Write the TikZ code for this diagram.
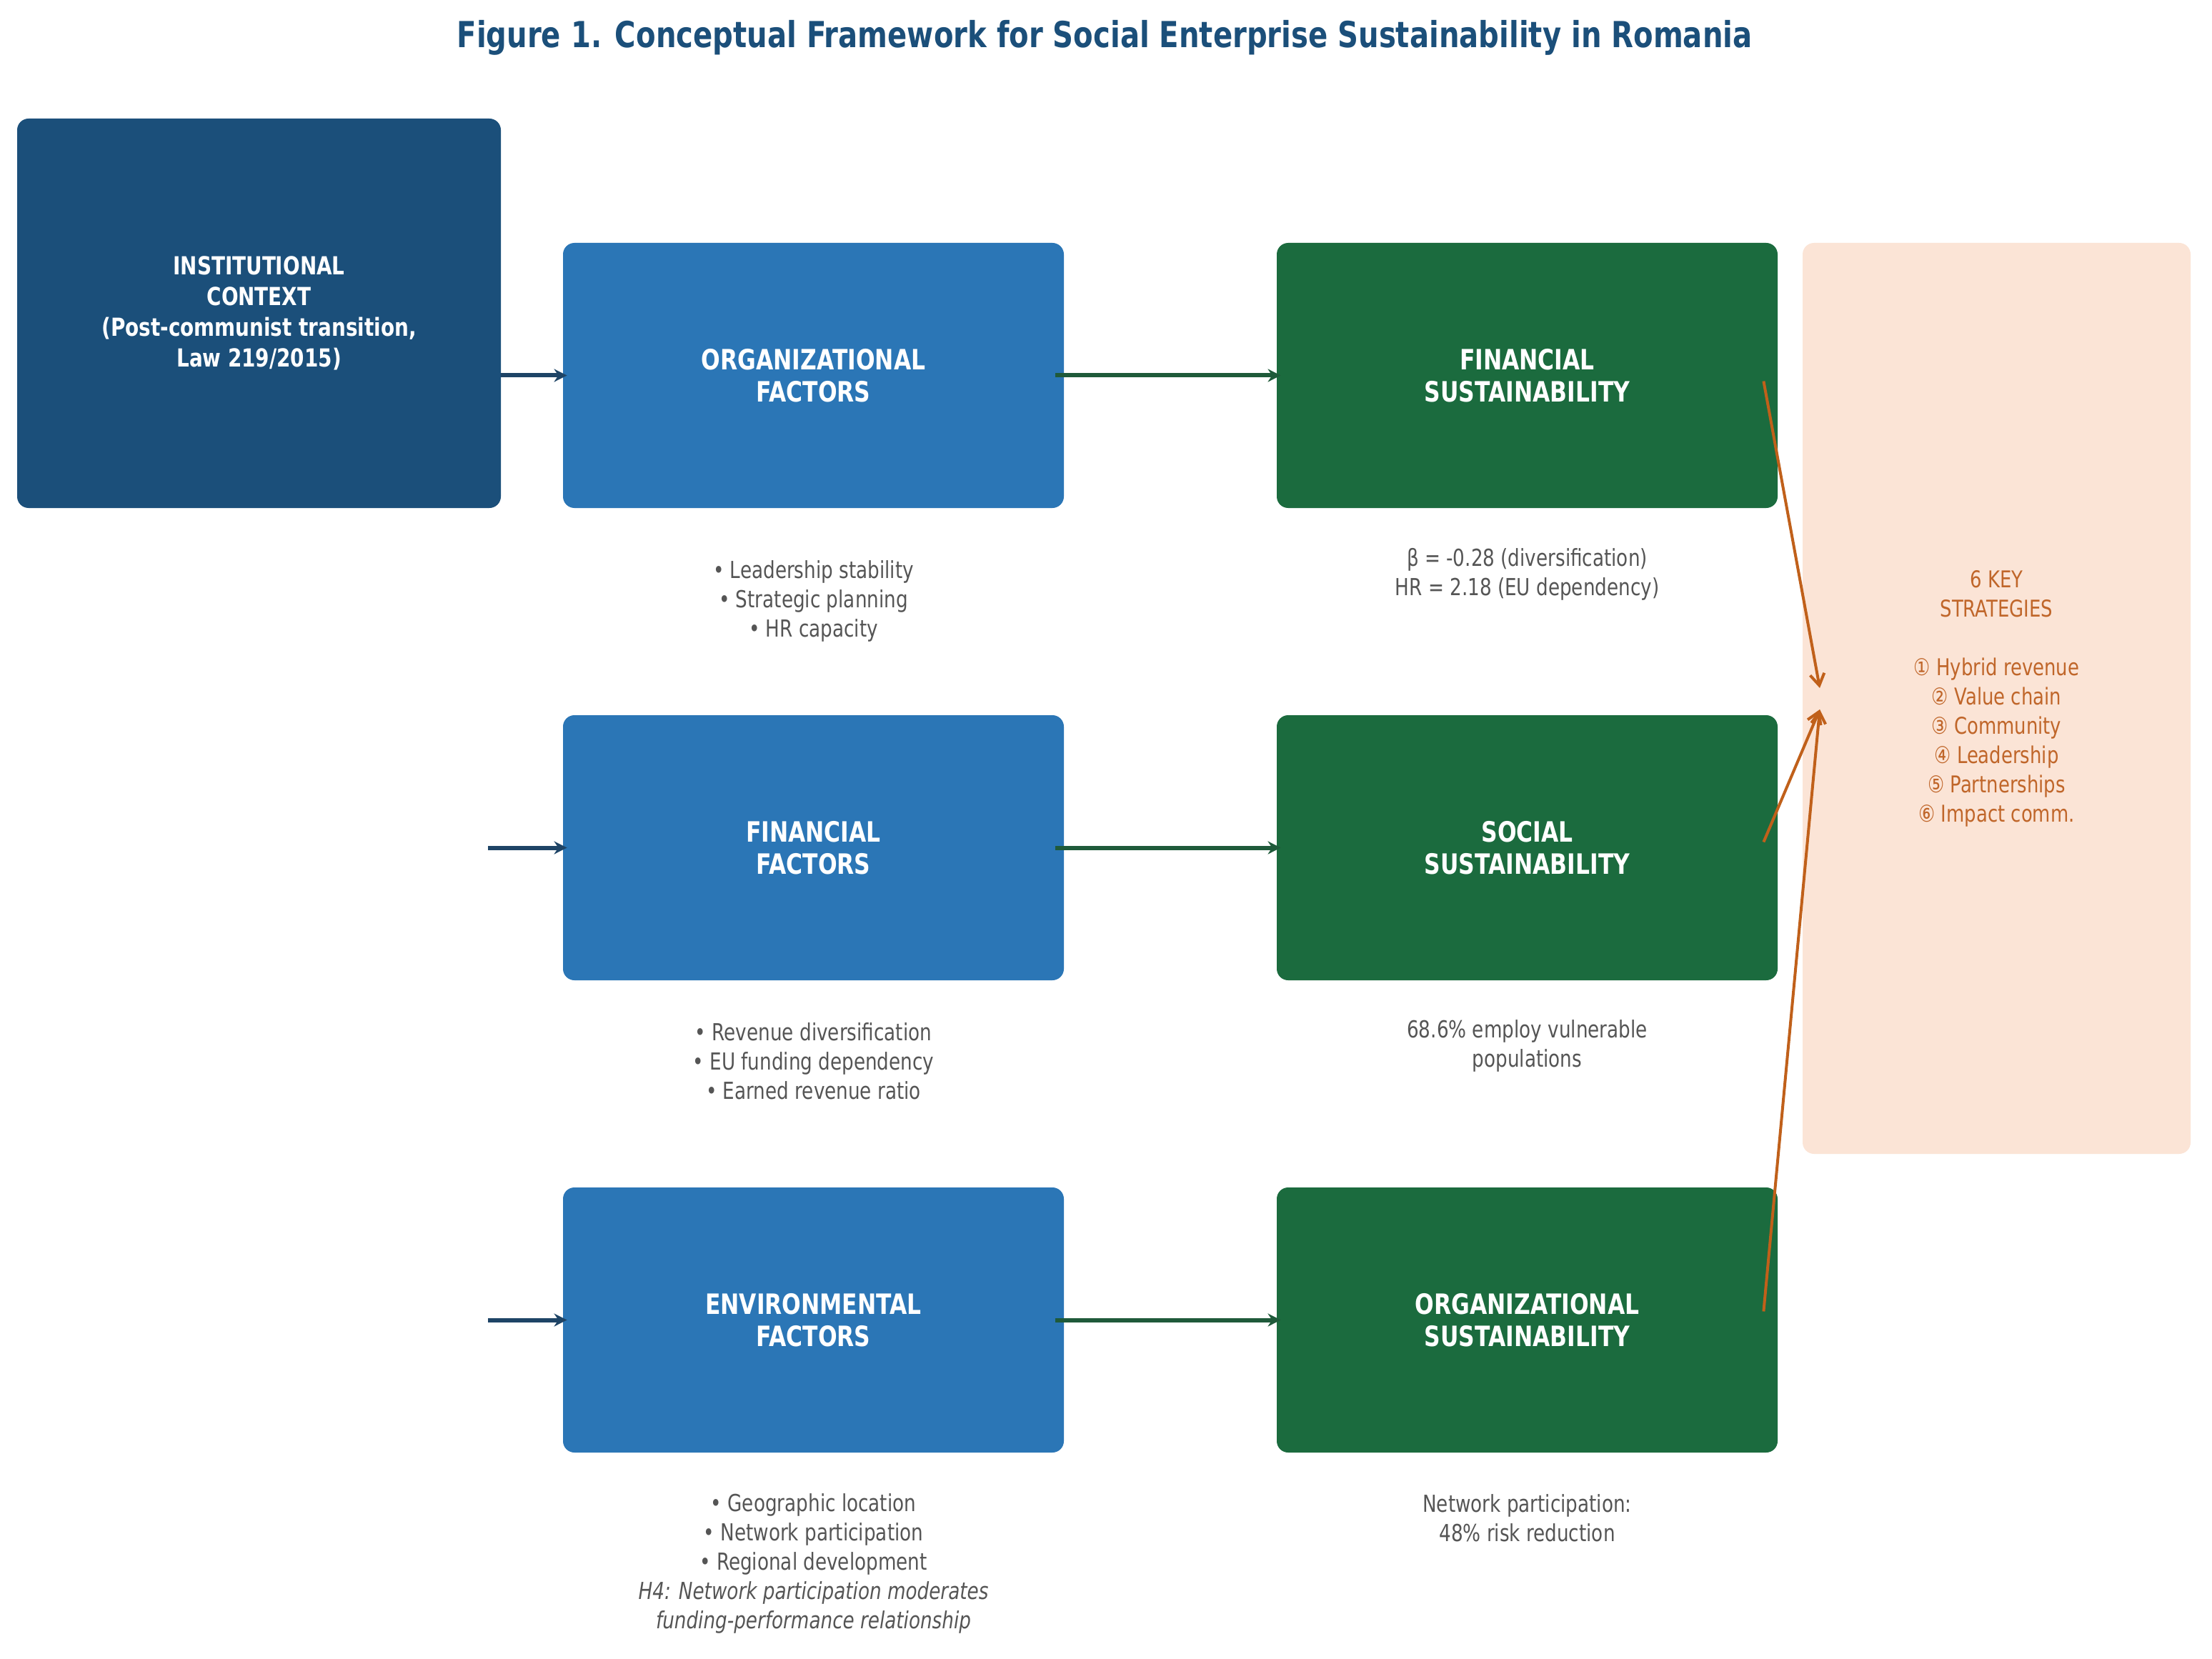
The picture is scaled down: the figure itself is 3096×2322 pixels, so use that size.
\documentclass[tikz,border=0pt]{standalone}
\usepackage{fontspec}
\setmainfont{DejaVu Sans}[FakeStretch=0.8]
\usetikzlibrary{arrows.meta}
\definecolor{navy}{HTML}{1B4F7A}
\definecolor{factorblue}{HTML}{2B76B6}
\definecolor{sgreen}{HTML}{1B6B3E}
\definecolor{peach}{HTML}{FBE4D6}
\definecolor{orangetxt}{HTML}{C0662A}
\definecolor{orangearr}{HTML}{C0601A}
\definecolor{graytxt}{HTML}{555555}
\definecolor{navyarr}{HTML}{1E4466}
\definecolor{greenarr}{HTML}{1F5A3A}
\begin{document}
\begin{tikzpicture}[x=0.5pt,y=-0.5pt,
  mainbox/.style={rounded corners=8pt, align=center, text=white, inner sep=0pt,
    font=\fontsize{19.6}{22.5}\selectfont\bfseries},
  factorbox/.style={mainbox, fill=factorblue, minimum width=350.5pt, minimum height=185.5pt},
  sustbox/.style={mainbox, fill=sgreen, minimum width=350.5pt, minimum height=185.5pt},
  note/.style={align=center, text=graytxt, inner sep=0pt, font=\fontsize{16.4}{20.5}\selectfont},
  navyarrow/.style={draw=navyarr, line width=3pt, -{Stealth[length=9pt,width=9pt]}},
  greenarrow/.style={draw=greenarr, line width=3pt, -{Stealth[length=9pt,width=9pt]}},
  orangearrow/.style={draw=orangearr, line width=2pt, -{Straight Barb[length=8pt,width=10pt]}}
]
\path[fill=white] (0,0) rectangle (3096,2322);

\node[text=navy, font=\fontsize{25.1}{30}\selectfont\bfseries] (title) at (1546,53)
  {Figure 1. Conceptual Framework for Social Enterprise Sustainability in Romania};

\node[mainbox, fill=navy, minimum width=338.5pt, minimum height=272.5pt,
  font=\fontsize{17.4}{21.5}\selectfont\bfseries] (inst) at (362.5,438.5)
  {INSTITUTIONAL\\CONTEXT\\(Post-communist transition,\\Law 219/2015)};

\node[factorbox] (of) at (1138.5,525.5) {ORGANIZATIONAL\\FACTORS};
\node[factorbox] (ff) at (1138.5,1186.5) {FINANCIAL\\FACTORS};
\node[factorbox] (ef) at (1138.5,1847.5) {ENVIRONMENTAL\\FACTORS};

\node[sustbox] (fs) at (2137.5,525.5) {FINANCIAL\\SUSTAINABILITY};
\node[sustbox] (ss) at (2137.5,1186.5) {SOCIAL\\SUSTAINABILITY};
\node[sustbox] (os) at (2137.5,1847.5) {ORGANIZATIONAL\\SUSTAINABILITY};

\node[rounded corners=8pt, fill=peach, minimum width=271.5pt, minimum height=637.5pt,
  inner sep=0pt, align=center, text=orangetxt, font=\fontsize{16.2}{20.5}\selectfont]
  (strat) at (2794.5,977.5)
  {6 KEY\\STRATEGIES\\[20.5pt]① Hybrid revenue\\② Value chain\\③ Community\\④ Leadership\\⑤ Partnerships\\⑥ Impact comm.};

\node[note] (ofn) at (1138.5,841) {• Leadership stability\\• Strategic planning\\• HR capacity};
\node[note] (fsn) at (2137.5,804) {β = -0.28 (diversification)\\HR = 2.18 (EU dependency)};
\node[note] (ffn) at (1138.5,1485) {• Revenue diversification\\• EU funding dependency\\• Earned revenue ratio};
\node[note] (ssn) at (2137.5,1464) {68.6\% employ vulnerable\\populations};
\node[note] (efn) at (1138.5,2188) {• Geographic location\\• Network participation\\• Regional development\\\itshape H4: Network participation moderates\\\itshape funding-performance relationship};
\node[note] (osn) at (2137.5,2125) {Network participation:\\48\% risk reduction};

\coordinate (s2) at (683,1186.5);
\coordinate (s3) at (683,1847.5);
\draw[navyarrow] (inst.east |- of.west) -- ([xshift=3pt]of.west);
\draw[navyarrow] (s2) -- ([xshift=3pt]ff.west);
\draw[navyarrow] (s3) -- ([xshift=3pt]ef.west);

\draw[greenarrow] ([xshift=-6pt]of.east) -- ([xshift=3pt]fs.west);
\draw[greenarrow] ([xshift=-6pt]ff.east) -- ([xshift=3pt]ss.west);
\draw[greenarrow] ([xshift=-6pt]ef.east) -- ([xshift=3pt]os.west);

\coordinate (t1) at (2547,963);
\coordinate (t2) at (2547,993);
\draw[orangearrow] ([xshift=-10pt,yshift=-4pt]fs.east) -- (t1);
\draw[orangearrow] ([xshift=-10pt,yshift=4pt]ss.east) -- (t2);
\draw[orangearrow] ([xshift=-10pt,yshift=6pt]os.east) -- (t2);
\end{tikzpicture}
\end{document}
